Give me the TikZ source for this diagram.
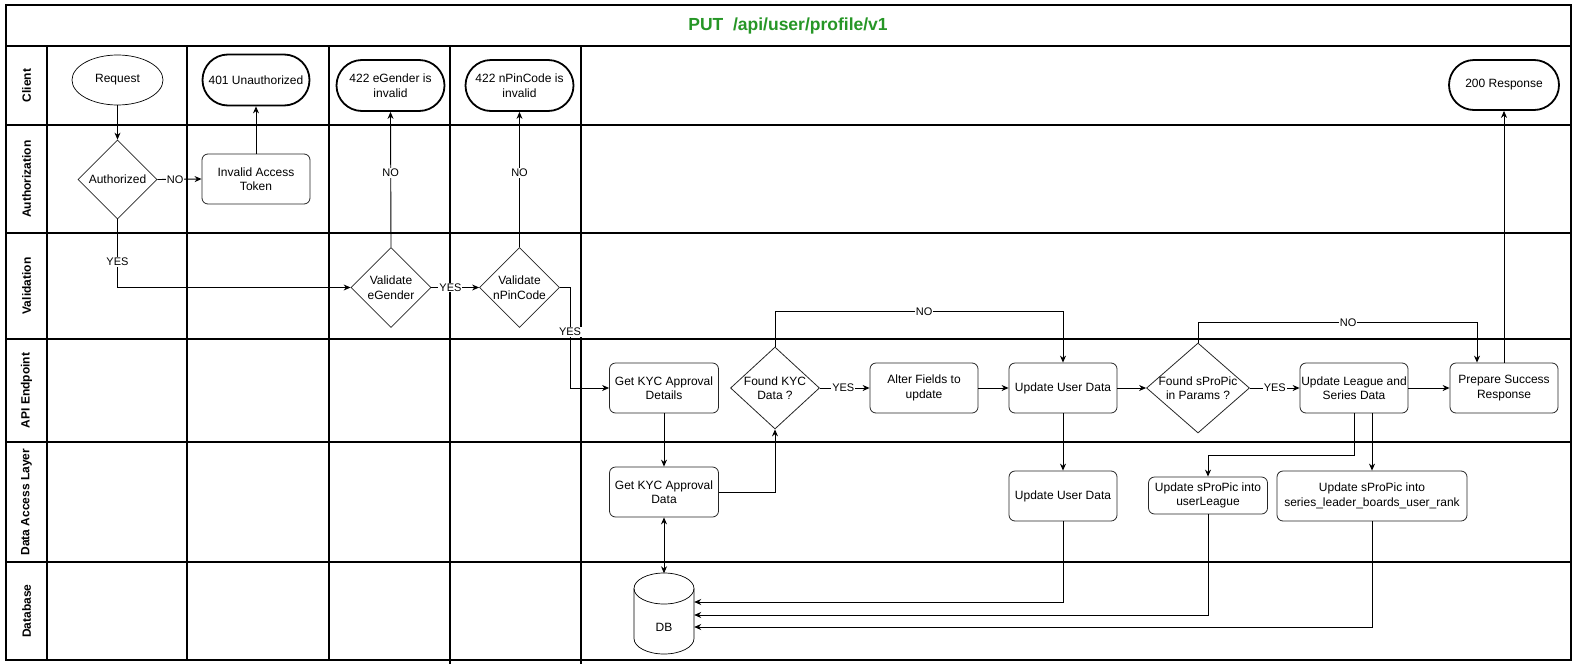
\documentclass[tikz,border=0pt]{standalone}
\usepackage{fontspec}
\setmainfont{Liberation Sans}
\usetikzlibrary{shapes.geometric,shapes.misc,arrows.meta,calc}
\definecolor{titlegreen}{RGB}{38,150,38}
\newcommand{\fsz}[1]{\fontsize{#1pt}{14.5pt}\selectfont}
\tikzset{
  lanestroke/.style={line width=1.2pt, black},
  lanelabel/.style={rotate=90, font=\fsz{12}\bfseries, inner sep=0pt},
  box/.style={draw=black!85, line width=0.8pt, rounded corners=6pt, minimum width=108pt, minimum height=50pt, align=center, font=\fsz{12}, inner sep=1pt},
  term/.style={draw, line width=1.8pt, rounded rectangle, minimum width=109pt, minimum height=51pt, align=center, font=\fsz{12}, inner sep=1pt},
  startnode/.style={draw, line width=0.7pt, ellipse, minimum width=91pt, minimum height=50pt, font=\fsz{12}, inner sep=0pt},
  decision/.style={draw=black!85, line width=0.8pt, diamond, inner sep=0pt},
  dtext/.style={align=center, font=\fsz{12}, inner sep=0pt},
  flow/.style={line width=0.9pt, -{Stealth[length=7pt,width=6pt]}},
  elabel/.style={fill=white, font=\fsz{11}, inner sep=1pt},
}
\begin{document}
\begin{tikzpicture}[x=1pt, y=-1pt]
\useasboundingbox (0,0) rectangle (1579,667);
% frame and lanes
\draw[lanestroke] (6,5) rectangle (1571,660);
\foreach \yy in {46,125,233,339,442,562} \draw[lanestroke] (6,\yy) -- (1571,\yy);
\draw[lanestroke] (47,46) -- (47,660);
\draw[lanestroke] (187,46) -- (187,660);
\draw[lanestroke] (329,46) -- (329,660);
\draw[lanestroke] (450,46) -- (450,664);
\draw[lanestroke] (581,46) -- (581,664);
\node[font=\fsz{17.5}\bfseries, text=titlegreen] (title) at (788,26) {PUT\ \ /api/user/profile/v1};
\node[lanelabel] (lclient) at (26.5,85.5) {Client};
\node[lanelabel] (lauth) at (26.5,179) {Authorization};
\node[lanelabel] (lval) at (26.5,286) {Validation};
\node[lanelabel] (lapi) at (26.5,390.5) {API Endpoint};
\node[lanelabel] (ldal) at (26.5,502) {Data Access Layer};
\node[lanelabel] (ldb) at (26.5,611) {Database};
% nodes
\node[startnode] (req) at (117.5,80) {Request};
\node[term] (u401) at (256,80) {401 Unauthorized};
\node[term, minimum width=110pt] (e422) at (390.5,85.5) {422 eGender is\\invalid};
\node[term, minimum width=110pt] (p422) at (519.5,85.5) {422 nPinCode is\\invalid};
\node[term, minimum width=112pt, minimum height=50pt] (r200) at (1504,85) {200 Response};
\node[decision, minimum width=79pt, minimum height=79pt, label={[dtext]center:Authorized}] (auth) at (117.5,179.5) {};
\node[box] (iat) at (256,179) {Invalid Access\\Token};
\node[decision, minimum width=80pt, minimum height=80pt, label={[dtext]center:Validate\\eGender}] (veg) at (391,287.5) {};
\node[decision, minimum width=80pt, minimum height=80pt, label={[dtext]center:Validate\\nPinCode}] (vpin) at (519.5,287.5) {};
\node[box, minimum width=109pt] (kycd) at (664,388) {Get KYC Approval\\Details};
\node[decision, minimum width=89pt, minimum height=82pt, label={[dtext]center:Found KYC\\Data ?}] (fkyc) at (775,388) {};
\node[box] (alter) at (924,388) {Alter Fields to\\update};
\node[box] (upd) at (1063,388) {Update User Data};
\node[decision, minimum width=103pt, minimum height=90pt, label={[dtext]center:Found sProPic\\in Params ?}] (fsp) at (1198,388) {};
\node[box] (league) at (1354,388) {Update League and\\Series Data};
\node[box] (prep) at (1504,388) {Prepare Success\\Response};
\node[box, minimum width=109pt] (kycdata) at (664,492) {Get KYC Approval\\Data};
\node[box] (updd) at (1063,496) {Update User Data};
\node[box, minimum width=119pt, minimum height=37pt] (ul) at (1208,495.5) {Update sProPic into\\userLeague};
\node[box, minimum width=190pt] (slb) at (1372,496) {Update sProPic into\\series\_leader\_boards\_user\_rank};
% database cylinder
\node[minimum width=60pt, minimum height=81pt, inner sep=0pt, label={[font=\fsz{12}, yshift=-13pt]center:DB}] (db) at (664,614) {};
\draw[line width=0.7pt] (664,588.5) ellipse [x radius=30pt, y radius=15.5pt];
\draw[line width=0.7pt] (634,588.5) -- (634,638.5) arc[start angle=180, end angle=360, x radius=30pt, y radius=15.5pt] -- (694,588.5);
% connectors
\draw[flow] (req) -- (auth);
\draw[flow] (auth.east) -- node[elabel, pos=0.4] {NO} (iat.west);
\draw[flow] (iat) -- (u401);
\draw[flow] (auth.south) |- node[elabel, pos=0.314] {YES} (veg.west);
\draw[flow] (veg.north) -- node[elabel, pos=0.55] {NO} (e422.south);
\draw[flow] (veg.east) -- node[elabel, pos=0.4] {YES} (vpin.west);
\draw[flow] (vpin.north) -- node[elabel, pos=0.55] {NO} (p422.south);
\coordinate (yesturn) at (570,287.5);
\draw[flow] (vpin.east) -- (yesturn) |- node[elabel, pos=0.221] {YES} (kycd.west);
\draw[flow] (kycd) -- (kycdata);
\draw[flow] (kycdata.east) -| (fkyc.south);
\draw[flow] (fkyc.north) -- ++(0,-35) -| node[elabel, pos=0.259] {NO} (upd.north);
\draw[flow] (fkyc.east) -- node[elabel, pos=0.47] {YES} (alter.west);
\draw[flow] (alter) -- (upd);
\draw[flow] (upd) -- (updd);
\draw[flow] (upd) -- (fsp);
\draw[flow] (fsp.east) -- node[elabel, pos=0.5] {YES} (league.west);
\draw[flow] (fsp.north) -- ++(0,-20) -| node[elabel, pos=0.269] {NO} ([xshift=-27pt]prep.north);
\draw[flow] (league) -- (prep);
\draw[flow] (prep.north) -- (r200.south);
\draw[flow] (league.south) -- ++(0,42) -| (ul.north);
\draw[flow] ([xshift=18pt]league.south) -- (slb.north);
\draw[line width=0.9pt, {Stealth[length=7pt,width=6pt]}-{Stealth[length=7pt,width=6pt]}] (kycdata.south) -- (db.north);
\draw[flow] (updd.south) |- ([yshift=12pt]db.east);
\draw[flow] (ul.south) |- ([yshift=-1pt]db.east);
\draw[flow] (slb.south) |- ([yshift=-13pt]db.east);
\end{tikzpicture}
\end{document}
